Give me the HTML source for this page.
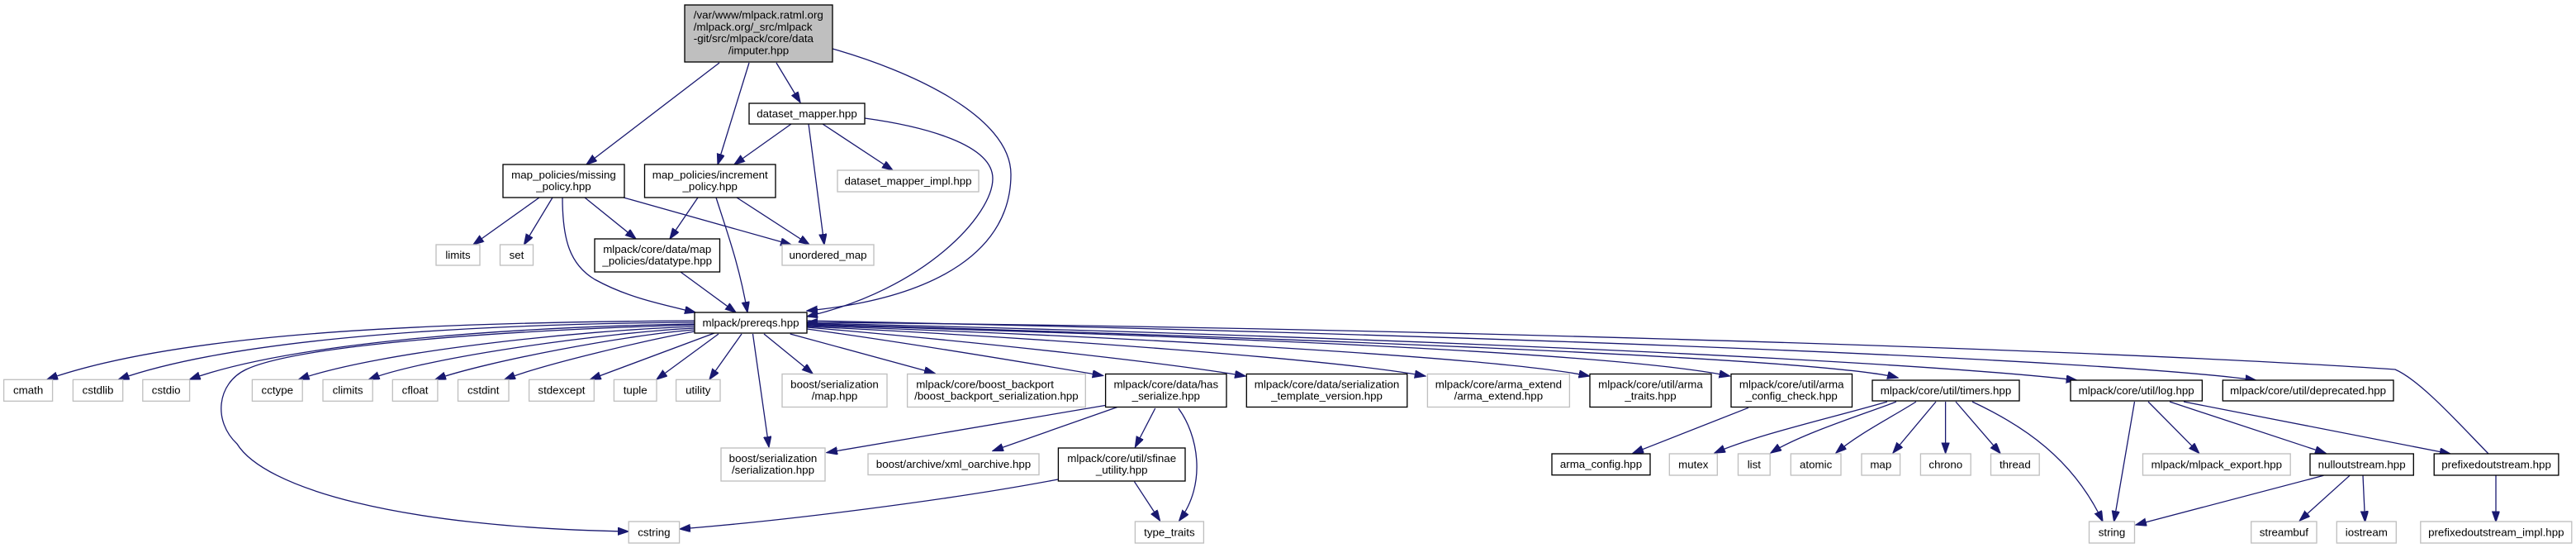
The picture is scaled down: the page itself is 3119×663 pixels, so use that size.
<!DOCTYPE html>
<html>
<head>
<meta charset="utf-8">
<style>
  html,body{margin:0;padding:0;background:#fff;}
  svg{display:block;}
  .e path{fill:none;stroke:#191970;stroke-width:1.3;marker-end:url(#a);}
  .n rect{fill:#fff;stroke:#000;stroke-width:1.33;}
  .g rect{fill:#fff;stroke:#bfbfbf;stroke-width:1.33;}
  text{font-family:"Liberation Sans",Arial,Helvetica,sans-serif;font-size:13.33px;fill:#000;}
  .c{text-anchor:middle;}
  .l{text-anchor:start;}
</style>
</head>
<body>
<svg width="3119" height="663" viewBox="0 0 3119 663" xmlns="http://www.w3.org/2000/svg">
<defs>
  <marker id="a" markerUnits="userSpaceOnUse" markerWidth="14" markerHeight="10" refX="13" refY="4.67" orient="auto">
    <path d="M0,0 L13.3,4.67 L0,9.33 z" fill="#191970" stroke="#191970" stroke-width="1"/>
  </marker>
</defs>
<rect width="3119" height="663" fill="#fff"/>

<!-- EDGES -->
<g class="e">
  <!-- root -->
  <path d="M871,76 L710,199"/>
  <path d="M907,76 L869,199"/>
  <path d="M940,76 L969,124"/>
  <path d="M1008,59 C1100,85 1224,140 1224,211 C1224,300 1140,360 977,376"/>
  <!-- dataset_mapper -->
  <path d="M958,150 L889,199"/>
  <path d="M979,150 L998,296"/>
  <path d="M996,150 L1081,206"/>
  <path d="M1047,143 C1120,153 1202,175 1202,216 C1202,260 1120,350 977,383"/>
  <!-- missing_policy -->
  <path d="M653,239 L573,296"/>
  <path d="M669,239 L634.5,296"/>
  <path d="M708,239 L770,289"/>
  <path d="M755,239 L958,296"/>
  <path d="M681,239 C681,290 690,320 720,338 C760,360 800,368 842,378"/>
  <!-- increment_policy -->
  <path d="M845,239 L811,289"/>
  <path d="M892,239 L980,296"/>
  <path d="M867,239 C880,280 895,320 905,378"/>
  <!-- datatype -->
  <path d="M824,329 L891,378"/>
  <!-- prereqs left fan -->
  <path d="M841,388 C500,390 214,404 57,459"/>
  <path d="M841,390 C560,392 283,410 143.5,459"/>
  <path d="M841,392 C600,396 350,416 229.6,459"/>
  <path d="M841,395 C700,400 460,425 361.6,459"/>
  <path d="M841,397 C740,402 520,431 446.6,459"/>
  <path d="M841,399 C760,405 590,437 527,459"/>
  <path d="M841,401 C790,410 660,440 611,459"/>
  <path d="M865,403 L714.7,459"/>
  <path d="M870,404 L795,459"/>
  <path d="M898,404 L859,459"/>
  <path d="M841,393 C600,400 360,418 298,447 C262,464 258,510 287,537 C320,590 480,638 761,643"/>
  <!-- prereqs bottom -->
  <path d="M911.5,404 L931,541"/>
  <path d="M925,404 L984,452"/>
  <path d="M956.7,404 L1132,451.6"/>
  <!-- prereqs right -->
  <path d="M977,398 C1100,415 1250,440 1335.6,454.5"/>
  <path d="M977,396 C1200,415 1420,440 1508,455"/>
  <path d="M977,395 C1250,408 1620,435 1725.8,455"/>
  <path d="M977,394 C1300,405 1800,430 1924.5,455"/>
  <path d="M977,393 C1400,405 1950,425 2094.5,455"/>
  <path d="M977,392 C1500,407 2200,432 2298,457"/>
  <path d="M977,391 C1600,405 2300,435 2514.7,460"/>
  <path d="M977,388 C1800,405 2550,435 2731.5,460"/>
  <path d="M3013,549 C2975,510 2930,460 2900,447 C2500,420 1600,395 977,390"/>
  <!-- has_serialize -->
  <path d="M1338,490.5 L1001,547.6"/>
  <path d="M1352.6,492.6 L1202,545.5"/>
  <path d="M1398.7,494 L1374.4,541"/>
  <path d="M1426.8,494 C1450,525 1462,585 1427.7,630"/>
  <!-- sfinae -->
  <path d="M1373.5,582.7 L1404.5,630"/>
  <path d="M1281,580 C1150,605 950,630 823,640"/>
  <!-- arma_config_check -->
  <path d="M2117,493.3 L1977,548.3"/>
  <!-- timers -->
  <path d="M2285,486 C2220,505 2130,525 2076,548"/>
  <path d="M2296,486 C2260,500 2180,525 2144,548"/>
  <path d="M2320,486 C2290,505 2250,525 2223,548"/>
  <path d="M2344,486 L2292,548"/>
  <path d="M2355.6,486 L2355.6,548.5"/>
  <path d="M2368,486 L2422,548.5"/>
  <path d="M2388,486 C2450,515 2510,555 2546,631"/>
  <!-- log -->
  <path d="M2584.5,486 L2559.6,631"/>
  <path d="M2601,486 L2662.7,548.3"/>
  <path d="M2627,486 L2816,548.3"/>
  <path d="M2644,486 L2966.8,549"/>
  <!-- nulloutstream -->
  <path d="M2813.4,575.3 L2586,635"/>
  <path d="M2845,575.3 L2784.3,630"/>
  <path d="M2861,575.3 L2863.6,631.3"/>
  <!-- prefixedoutstream -->
  <path d="M3022,575.3 L3022,631.3"/>
</g>

<!-- NODES -->
<!-- root -->
<g>
  <rect x="829" y="6" width="179" height="69" fill="#bfbfbf" stroke="#000" stroke-width="1.33"/>
  <text class="l" x="839.8" y="22.4">/var/www/mlpack.ratml.org</text>
  <text class="l" x="839.8" y="36.8">/mlpack.org/_src/mlpack</text>
  <text class="l" x="839.8" y="51.2">-git/src/mlpack/core/data</text>
  <text class="c" x="918.5" y="65.6">/imputer.hpp</text>
</g>

<g class="n">
  <rect x="907" y="125" width="140" height="25"/>
  <text class="c" x="977" y="141.9">dataset_mapper.hpp</text>

  <rect x="609" y="199" width="147" height="40"/>
  <text class="c" x="682.5" y="215.8">map_policies/missing</text>
  <text class="c" x="682.5" y="230.2">_policy.hpp</text>

  <rect x="780.5" y="199" width="158.5" height="40"/>
  <text class="c" x="859.75" y="215.8">map_policies/increment</text>
  <text class="c" x="859.75" y="230.2">_policy.hpp</text>

  <rect x="720" y="289" width="151.5" height="40"/>
  <text class="c" x="795.75" y="305.8">mlpack/core/data/map</text>
  <text class="c" x="795.75" y="320.2">_policies/datatype.hpp</text>

  <rect x="841" y="378" width="136" height="25"/>
  <text class="c" x="909" y="394.9">mlpack/prereqs.hpp</text>

  <rect x="1338.6" y="452.5" width="146.4" height="40"/>
  <text class="c" x="1411.8" y="469.3">mlpack/core/data/has</text>
  <text class="c" x="1411.8" y="483.7">_serialize.hpp</text>

  <rect x="1509.3" y="452.5" width="194.5" height="40"/>
  <text class="c" x="1606.55" y="469.3">mlpack/core/data/serialization</text>
  <text class="c" x="1606.55" y="483.7">_template_version.hpp</text>

  <rect x="1925" y="452.5" width="147" height="40"/>
  <text class="c" x="1998.5" y="469.3">mlpack/core/util/arma</text>
  <text class="c" x="1998.5" y="483.7">_traits.hpp</text>

  <rect x="2096" y="452.5" width="146.5" height="40"/>
  <text class="c" x="2169.25" y="469.3">mlpack/core/util/arma</text>
  <text class="c" x="2169.25" y="483.7">_config_check.hpp</text>

  <rect x="2267" y="460" width="178" height="25"/>
  <text class="c" x="2356" y="476.9">mlpack/core/util/timers.hpp</text>

  <rect x="2507" y="460" width="159.4" height="25"/>
  <text class="c" x="2586.7" y="476.9">mlpack/core/util/log.hpp</text>

  <rect x="2691.3" y="460" width="206.7" height="25"/>
  <text class="c" x="2794.65" y="476.9">mlpack/core/util/deprecated.hpp</text>

  <rect x="1281.4" y="542" width="153.6" height="40"/>
  <text class="c" x="1358.2" y="558.8">mlpack/core/util/sfinae</text>
  <text class="c" x="1358.2" y="573.2">_utility.hpp</text>

  <rect x="1879" y="549" width="119" height="25.7"/>
  <text class="c" x="1938.5" y="566.2">arma_config.hpp</text>

  <rect x="2797" y="549" width="125.3" height="26"/>
  <text class="c" x="2859.65" y="566.4">nulloutstream.hpp</text>

  <rect x="2947.2" y="549" width="150.7" height="26"/>
  <text class="c" x="3022.55" y="566.4">prefixedoutstream.hpp</text>
</g>

<g class="g">
  <rect x="1014" y="206" width="171" height="26"/>
  <text class="c" x="1099.5" y="223.4">dataset_mapper_impl.hpp</text>

  <rect x="528" y="296" width="53" height="25"/>
  <text class="c" x="554.5" y="312.9">limits</text>

  <rect x="605.5" y="296" width="40" height="25"/>
  <text class="c" x="625.5" y="312.9">set</text>

  <rect x="947" y="296" width="111" height="25"/>
  <text class="c" x="1002.5" y="312.9">unordered_map</text>

  <rect x="4.6" y="459.3" width="59" height="26"/>
  <text class="c" x="34.1" y="476.7">cmath</text>
  <rect x="88.4" y="459.3" width="60.3" height="26"/>
  <text class="c" x="118.55" y="476.7">cstdlib</text>
  <rect x="172.8" y="459.3" width="56.8" height="26"/>
  <text class="c" x="201.2" y="476.7">cstdio</text>
  <rect x="305.4" y="459.3" width="60.8" height="26"/>
  <text class="c" x="335.8" y="476.7">cctype</text>
  <rect x="391" y="459.3" width="60.2" height="26"/>
  <text class="c" x="421.1" y="476.7">climits</text>
  <rect x="475.3" y="459.3" width="54.6" height="26"/>
  <text class="c" x="502.6" y="476.7">cfloat</text>
  <rect x="554.5" y="459.3" width="61.5" height="26"/>
  <text class="c" x="585.25" y="476.7">cstdint</text>
  <rect x="640.6" y="459.3" width="78.7" height="26"/>
  <text class="c" x="679.95" y="476.7">stdexcept</text>
  <rect x="743.4" y="459.3" width="51.6" height="26"/>
  <text class="c" x="769.2" y="476.7">tuple</text>
  <rect x="818.6" y="459.3" width="53.4" height="26"/>
  <text class="c" x="845.3" y="476.7">utility</text>

  <rect x="947" y="452.5" width="127" height="40"/>
  <text class="c" x="1010.5" y="469.3">boost/serialization</text>
  <text class="c" x="1010.5" y="483.7">/map.hpp</text>

  <rect x="1098.6" y="452.5" width="215.7" height="40"/>
  <text class="l" x="1109.3" y="469.3">mlpack/core/boost_backport</text>
  <text class="c" x="1206.45" y="483.7">/boost_backport_serialization.hpp</text>

  <rect x="1728.4" y="452.5" width="172" height="40"/>
  <text class="c" x="1814.4" y="469.3">mlpack/core/arma_extend</text>
  <text class="c" x="1814.4" y="483.7">/arma_extend.hpp</text>

  <rect x="873" y="542" width="126" height="40"/>
  <text class="c" x="936" y="558.8">boost/serialization</text>
  <text class="c" x="936" y="573.2">/serialization.hpp</text>

  <rect x="1051" y="549" width="207" height="25.5"/>
  <text class="c" x="1154.5" y="566.1">boost/archive/xml_oarchive.hpp</text>

  <rect x="2021.3" y="549" width="58" height="26"/>
  <text class="c" x="2050.3" y="566.4">mutex</text>
  <rect x="2104.5" y="549" width="38.7" height="26"/>
  <text class="c" x="2123.85" y="566.4">list</text>
  <rect x="2168.3" y="549" width="60.7" height="26"/>
  <text class="c" x="2198.65" y="566.4">atomic</text>
  <rect x="2254" y="549" width="46.6" height="26"/>
  <text class="c" x="2277.3" y="566.4">map</text>
  <rect x="2325.4" y="549" width="60.8" height="26"/>
  <text class="c" x="2355.8" y="566.4">chrono</text>
  <rect x="2410.5" y="549" width="58.7" height="26"/>
  <text class="c" x="2439.85" y="566.4">thread</text>

  <rect x="2594.5" y="549" width="178.7" height="26"/>
  <text class="c" x="2683.85" y="566.4">mlpack/mlpack_export.hpp</text>

  <rect x="761.2" y="631" width="61.4" height="26"/>
  <text class="c" x="791.9" y="648.4">cstring</text>
  <rect x="1374.4" y="631" width="83" height="26"/>
  <text class="c" x="1415.9" y="648.4">type_traits</text>
  <rect x="2529.5" y="631" width="55" height="26"/>
  <text class="c" x="2557" y="648.4">string</text>
  <rect x="2725.7" y="631" width="79.3" height="26"/>
  <text class="c" x="2765.35" y="648.4">streambuf</text>
  <rect x="2829.3" y="631" width="72" height="26"/>
  <text class="c" x="2865.3" y="648.4">iostream</text>
  <rect x="2930.8" y="631" width="183" height="26"/>
  <text class="c" x="3022.3" y="648.4">prefixedoutstream_impl.hpp</text>
</g>
</svg>
</body>
</html>
